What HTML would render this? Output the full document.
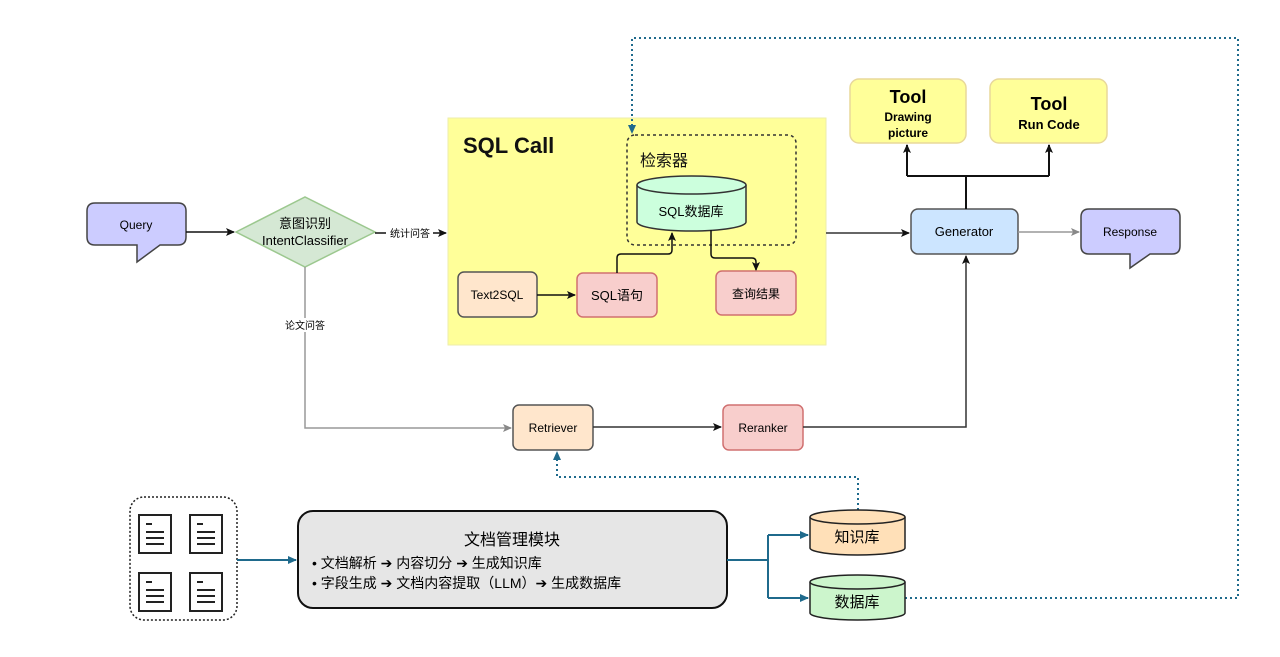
<!DOCTYPE html>
<html><head><meta charset="utf-8"><style>
body{margin:0;background:#fff;}
svg text{font-family:"Liberation Sans","Noto Sans CJK SC",sans-serif;}
</style></head><body>
<svg width="1280" height="652" viewBox="0 0 1280 652" xmlns="http://www.w3.org/2000/svg">
<defs>
<marker id="ab" markerWidth="10" markerHeight="10" refX="8" refY="5" orient="auto" markerUnits="userSpaceOnUse"><path d="M0,1 L9,5 L0,9 L2,5z" fill="#111"/></marker>
<marker id="ag" markerWidth="10" markerHeight="10" refX="8" refY="5" orient="auto" markerUnits="userSpaceOnUse"><path d="M0,1 L9,5 L0,9 L2,5z" fill="#888"/></marker>
<marker id="at" markerWidth="10" markerHeight="10" refX="8" refY="5" orient="auto" markerUnits="userSpaceOnUse"><path d="M0,1 L9,5 L0,9z" fill="#1f6a8c"/></marker>
</defs>
<!-- yellow SQL call -->
<rect x="448" y="118" width="378" height="227" fill="#ffff99" stroke="#eeeeaa"/>
<!-- dotted long connector -->
<path d="M905,598 H1238 V38 H632 V133" fill="none" stroke="#1f6a8c" stroke-width="2" stroke-dasharray="2,3" marker-end="url(#at)"/>
<text x="463" y="153" font-size="22" font-weight="bold" fill="#111">SQL Call</text>
<rect x="627" y="135" width="169" height="110" rx="8" fill="none" stroke="#333" stroke-width="1.5" stroke-dasharray="3,3"/>
<text x="640" y="166" font-size="16" fill="#111">检索器</text>
<path d="M637,185 V222 A54.5,9 0 0 0 746,222 V185" fill="#ccffdd" stroke="#333" stroke-width="1.5"/>
<ellipse cx="691.5" cy="185" rx="54.5" ry="9" fill="#ccffdd" stroke="#333" stroke-width="1.5"/>
<text x="691" y="216" font-size="13" text-anchor="middle">SQL数据库</text>
<rect x="458" y="272" width="79" height="45" rx="6" fill="#ffe6cc" stroke="#555" stroke-width="1.5"/>
<text x="497" y="299" font-size="12" text-anchor="middle">Text2SQL</text>
<rect x="577" y="273" width="80" height="44" rx="6" fill="#f8cecc" stroke="#d07070" stroke-width="1.5"/>
<text x="617" y="300" font-size="13" text-anchor="middle">SQL语句</text>
<rect x="716" y="271" width="80" height="44" rx="6" fill="#f8cecc" stroke="#d07070" stroke-width="1.5"/>
<text x="756" y="298" font-size="12" text-anchor="middle">查询结果</text>
<path d="M537,295 H575" stroke="#111" stroke-width="1.5" marker-end="url(#ab)"/>
<path d="M617,273 V258 Q617,254 621,254 H668 Q672,254 672,250 V233" fill="none" stroke="#111" stroke-width="1.5" marker-end="url(#ab)"/>
<path d="M711,230 V254 Q711,258 715,258 H752 Q756,258 756,262 V270" fill="none" stroke="#111" stroke-width="1.5" marker-end="url(#ab)"/>
<!-- Query -->
<path d="M95,203 H178 Q186,203 186,211 V237 Q186,245 178,245 H160 L137,262 L137,245 H95 Q87,245 87,237 V211 Q87,203 95,203z" fill="#ccccff" stroke="#444" stroke-width="1.5"/>
<text x="136" y="229" font-size="12" text-anchor="middle">Query</text>
<path d="M186,232 H234" stroke="#111" stroke-width="1.5" marker-end="url(#ab)"/>
<polygon points="236,232 305,197 375,232 305,267" fill="#d5e8d4" stroke="#9cc88f" stroke-width="1.5"/>
<text x="305" y="228" font-size="13" text-anchor="middle">意图识别</text>
<text x="305" y="245" font-size="13" text-anchor="middle">IntentClassifier</text>
<path d="M375,233 H386" stroke="#111" stroke-width="1.5"/>
<text x="410" y="237" font-size="10" text-anchor="middle">统计问答</text>
<path d="M433,233 H446" stroke="#111" stroke-width="1.5" marker-end="url(#ab)"/>
<path d="M305,267 V428 H511" fill="none" stroke="#999" stroke-width="1.5" marker-end="url(#ag)"/>
<rect x="283" y="318" width="44" height="14" fill="#fff"/>
<text x="305" y="329" font-size="10" text-anchor="middle">论文问答</text>
<!-- Generator etc -->
<path d="M826,233 H909" stroke="#333" stroke-width="1.5" marker-end="url(#ab)"/>
<rect x="911" y="209" width="107" height="45" rx="7" fill="#cce5ff" stroke="#555" stroke-width="1.5"/>
<text x="964" y="236" font-size="13" text-anchor="middle">Generator</text>
<path d="M1018,232 H1079" stroke="#999" stroke-width="1.5" marker-end="url(#ag)"/>
<path d="M1089,209 H1172 Q1180,209 1180,217 V246 Q1180,254 1172,254 H1150 L1130,268 L1130,254 H1089 Q1081,254 1081,246 V217 Q1081,209 1089,209z" fill="#ccccff" stroke="#444" stroke-width="1.5"/>
<text x="1130" y="236" font-size="12" text-anchor="middle">Response</text>
<rect x="850" y="79" width="116" height="64" rx="9" fill="#ffff99" stroke="#e8d89a" stroke-width="1.5"/>
<text x="908" y="103" font-size="18" font-weight="bold" text-anchor="middle">Tool</text>
<text x="908" y="121" font-size="12" font-weight="bold" text-anchor="middle">Drawing</text>
<text x="908" y="137" font-size="12" font-weight="bold" text-anchor="middle">picture</text>
<rect x="990" y="79" width="117" height="64" rx="9" fill="#ffff99" stroke="#e8d89a" stroke-width="1.5"/>
<text x="1049" y="110" font-size="18" font-weight="bold" text-anchor="middle">Tool</text>
<text x="1049" y="129" font-size="13" font-weight="bold" text-anchor="middle">Run Code</text>
<path d="M966,209 V176 M907,176 H1049" stroke="#111" stroke-width="2"/>
<path d="M907,176 V145" stroke="#111" stroke-width="2" marker-end="url(#ab)"/>
<path d="M1049,176 V145" stroke="#111" stroke-width="2" marker-end="url(#ab)"/>
<!-- retriever/reranker -->
<rect x="513" y="405" width="80" height="45" rx="6" fill="#ffe6cc" stroke="#555" stroke-width="1.5"/>
<text x="553" y="432" font-size="12" text-anchor="middle">Retriever</text>
<rect x="723" y="405" width="80" height="45" rx="6" fill="#f8cecc" stroke="#d07070" stroke-width="1.5"/>
<text x="763" y="432" font-size="12" text-anchor="middle">Reranker</text>
<path d="M593,427 H721" stroke="#333" stroke-width="1.5" marker-end="url(#ab)"/>
<path d="M803,427 H966 V256" fill="none" stroke="#333" stroke-width="1.5" marker-end="url(#ab)"/>
<path d="M858,510 V477 H557 V452" fill="none" stroke="#1f6a8c" stroke-width="2" stroke-dasharray="2,3" marker-end="url(#at)"/>
<!-- docs -->
<rect x="130" y="497" width="107" height="123" rx="14" fill="#fff" stroke="#222" stroke-width="1.5" stroke-dasharray="2,2"/>
<g fill="#fff" stroke="#222" stroke-width="2">
<rect x="139" y="515" width="32" height="38"/><rect x="190" y="515" width="32" height="38"/>
<rect x="139" y="573" width="32" height="38"/><rect x="190" y="573" width="32" height="38"/>
</g>
<g stroke="#222" stroke-width="2">
<path d="M146,524h6M146,532h18M146,538h18M146,544h18"/><path d="M197,524h6M197,532h18M197,538h18M197,544h18"/>
<path d="M146,582h6M146,590h18M146,596h18M146,602h18"/><path d="M197,582h6M197,590h18M197,596h18M197,602h18"/>
</g>
<path d="M237,560 H296" stroke="#1f6a8c" stroke-width="2" marker-end="url(#at)"/>
<rect x="298" y="511" width="429" height="97" rx="15" fill="#e6e6e6" stroke="#111" stroke-width="2"/>
<text x="512" y="545" font-size="16" text-anchor="middle">文档管理模块</text>
<text x="312" y="568" font-size="14">•  文档解析 ➔ 内容切分 ➔ 生成知识库</text>
<text x="312" y="588" font-size="14">•  字段生成 ➔ 文档内容提取（LLM）➔ 生成数据库</text>
<path d="M727,560 H768 M768,535 V598" stroke="#1f6a8c" stroke-width="2" fill="none"/>
<path d="M768,535 H808" stroke="#1f6a8c" stroke-width="2" marker-end="url(#at)"/>
<path d="M768,598 H808" stroke="#1f6a8c" stroke-width="2" marker-end="url(#at)"/>
<path d="M810,517 V548 A47.5,7 0 0 0 905,548 V517" fill="#ffe0b8" stroke="#222" stroke-width="1.5"/>
<ellipse cx="857.5" cy="517" rx="47.5" ry="7" fill="#ffe0b8" stroke="#222" stroke-width="1.5"/>
<text x="857" y="542" font-size="15" text-anchor="middle">知识库</text>
<path d="M810,582 V613 A47.5,7 0 0 0 905,613 V582" fill="#ccf5cc" stroke="#222" stroke-width="1.5"/>
<ellipse cx="857.5" cy="582" rx="47.5" ry="7" fill="#ccf5cc" stroke="#222" stroke-width="1.5"/>
<text x="857" y="607" font-size="15" text-anchor="middle">数据库</text>
</svg>
</body></html>
